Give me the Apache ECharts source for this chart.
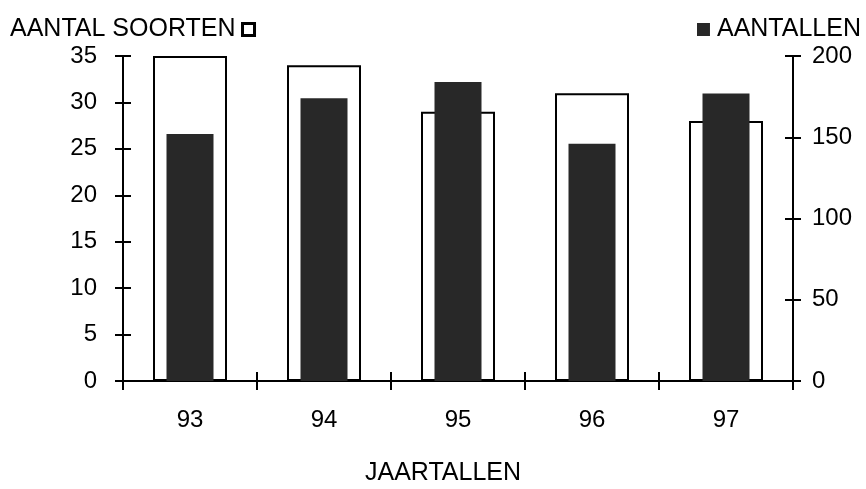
<!DOCTYPE html>
<html>
<head>
<meta charset="utf-8">
<script src="https://cdn.jsdelivr.net/npm/echarts@6/dist/echarts.min.js"></script>
<style>
html,body{margin:0;padding:0;background:#fff;}
#chart{width:866px;height:489px;}
</style>
</head>
<body>
<div id="chart"></div>
<script>
const categories = ['93', '94', '95', '96', '97'];
const soorten = [35, 34, 29, 31, 28];
const aantallen = [152, 174, 184, 146, 177];
const leftTicks = { min: 0, max: 35, interval: 5 };
const rightTicks = { min: 0, max: 200, interval: 50 };

const FONT = 'Liberation Sans, Arial, Helvetica, sans-serif';
const black = '#000';

const chart = echarts.init(document.getElementById('chart'), null, { renderer: 'canvas' });

function yAx(pos, ticks, inside, showLabel, margin) {
  return {
    type: 'value', position: pos, min: ticks.min, max: ticks.max, interval: ticks.interval,
    axisLine: { show: !inside, lineStyle: { color: black, width: 2 } },
    axisTick: { show: true, inside: inside, length: 8, lineStyle: { color: black, width: 2 } },
    axisLabel: { show: showLabel, color: black, fontSize: 24, fontFamily: FONT, margin: margin },
    splitLine: { show: false }
  };
}
function xAx(inside, showLabel) {
  return {
    type: 'category', position: 'bottom', data: categories, boundaryGap: true,
    axisLine: { show: !inside, onZero: false, lineStyle: { color: black, width: 2 } },
    axisTick: { show: true, inside: inside, length: 9, lineStyle: { color: black, width: 2 } },
    axisLabel: { show: showLabel, color: black, fontSize: 24, fontFamily: FONT, margin: 27 },
    splitLine: { show: false }
  };
}

chart.setOption({
  animation: false,
  backgroundColor: '#fff',
  grid: { left: 123, right: 73, top: 56, bottom: 108 },
  title: {
    text: 'JAARTALLEN', left: 360, top: 456,
    textStyle: { fontSize: 25, fontWeight: 'normal', color: black, fontFamily: FONT }
  },
  legend: [
    {
      data: ['AANTAL SOORTEN'], left: 5, top: 12, align: 'right',
      icon: 'rect', itemWidth: 12, itemHeight: 12,
      itemStyle: { color: '#fff', borderColor: black, borderWidth: 3 },
      textStyle: { fontSize: 25, color: black, fontFamily: FONT, padding: [0, 2, 0, 0] }
    },
    {
      data: ['AANTALLEN'], right: 0, top: 12, align: 'left',
      icon: 'rect', itemWidth: 13, itemHeight: 13,
      textStyle: { fontSize: 25, color: black, fontFamily: FONT, padding: [0, 0, 0, 2] }
    }
  ],
  xAxis: [xAx(false, true), xAx(true, false)],
  yAxis: [
    yAx('left', leftTicks, false, true, 26),
    yAx('right', rightTicks, false, true, 19),
    yAx('left', leftTicks, true, false, 0),
    yAx('right', rightTicks, true, false, 0)
  ],
  series: [
    {
      name: 'AANTAL SOORTEN', type: 'bar', xAxisIndex: 0, yAxisIndex: 0,
      data: soorten, barWidth: 74,
      itemStyle: { color: '#fff', borderColor: black, borderWidth: 2 }
    },
    {
      name: 'AANTALLEN', type: 'bar', xAxisIndex: 1, yAxisIndex: 1,
      data: aantallen, barWidth: 47,
      itemStyle: { color: '#282828' }
    }
  ]
});
</script>
</body>
</html>
